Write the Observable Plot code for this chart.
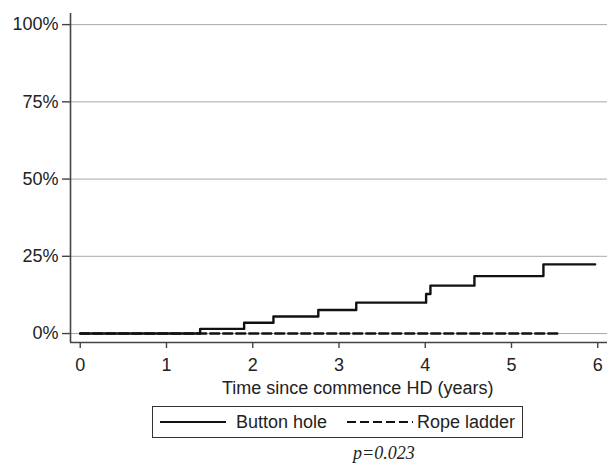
<!DOCTYPE html>
<html>
<head>
<meta charset="utf-8">
<script src="https://cdn.jsdelivr.net/npm/d3@7"></script>
<script src="https://cdn.jsdelivr.net/npm/@observablehq/plot@0.6"></script>
<style>
  html, body { margin: 0; padding: 0; background: #fff; }
  #wrap { position: relative; width: 607px; height: 464px; font-family: "Liberation Sans", Arial, sans-serif; color: #222; }
  #chart { position: absolute; left: 0; top: 0; }
  .abs { position: absolute; white-space: nowrap; }
  #xtitle { left: 222px; top: 377px; font-size: 18px; line-height: 22px; }
  #legend { left: 152px; top: 406px; width: 369px; height: 30px; border: 1.5px solid #333; font-size: 18px; }
  #legend .item { position: absolute; top: 0; height: 30px; line-height: 30px; }
  #pval { left: 353px; top: 442px; font-family: "Liberation Serif", "Times New Roman", serif; font-style: italic; font-size: 18px; line-height: 22px; }
</style>
</head>
<body>
<div id="wrap">
  <div id="chart"></div>
  <div id="xtitle" class="abs">Time since commence HD (years)</div>
  <div id="legend" class="abs">
    <svg class="item" style="left:7px" width="66" height="30"><line x1="0" x2="66" y1="15" y2="15" stroke="#111" stroke-width="2.2"/></svg>
    <span class="item" style="left:83px">Button hole</span>
    <svg class="item" style="left:194px" width="66" height="30"><line x1="0" x2="66" y1="15" y2="15" stroke="#111" stroke-width="2.2" stroke-dasharray="9,4"/></svg>
    <span class="item" style="left:264px">Rope ladder</span>
  </div>
  <div id="pval" class="abs">p=0.023</div>
</div>
<script>
// Button hole (cumulative incidence, %), step times in years
const buttonTime  = [0, 1.39, 1.90, 2.24, 2.76, 3.20, 4.01, 4.06, 4.57, 5.37, 5.97];
const buttonValue = [0, 1.5, 3.5, 5.5, 7.6, 10.0, 12.8, 15.5, 18.6, 22.4, 22.4];
// Rope ladder: no events
const ropeTime  = [0, 5.54];
const ropeValue = [0, 0];

const xTicks = [0, 1, 2, 3, 4, 5, 6];
const yTicks = [0, 25, 50, 75, 100];
const xDomain = [-0.113, 6.113];
const yDomain = [-2.9, 103.6];

const button = buttonTime.map((t, i) => ({t, v: buttonValue[i]}));
const rope = ropeTime.map((t, i) => ({t, v: ropeValue[i]}));

const chart = Plot.plot({
  width: 607,
  height: 380,
  marginLeft: 70,
  marginRight: 0,
  marginTop: 13,
  marginBottom: 38,
  style: { fontSize: "18px", fontFamily: "Liberation Sans, Arial, sans-serif", color: "#222", background: "#fff" },
  x: { domain: xDomain, label: null },
  y: { domain: yDomain, label: null },
  marks: [
    Plot.gridY(yTicks, { stroke: "#a8a8a8", strokeOpacity: 1, strokeWidth: 1 }),
    Plot.ruleX([xDomain[0]], { stroke: "#444", strokeWidth: 1.6 }),
    Plot.ruleY([yDomain[0]], { stroke: "#444", strokeWidth: 1.6 }),
    Plot.axisY(yTicks, { tickFormat: d => d + "%", tickSize: 8, tickPadding: 4, stroke: "#444", strokeWidth: 1.4, label: null }),
    Plot.axisX(xTicks, { tickFormat: d => String(d), tickSize: 6, tickPadding: 10, stroke: "#444", strokeWidth: 1.4, label: null }),
    Plot.line(rope, { x: "t", y: "v", curve: "step-after", stroke: "#111", strokeWidth: 2.4, strokeDasharray: "9,4" }),
    Plot.line(button, { x: "t", y: "v", curve: "step-after", stroke: "#111", strokeWidth: 2.4 })
  ]
});
document.getElementById("chart").appendChild(chart);
</script>
</body>
</html>
